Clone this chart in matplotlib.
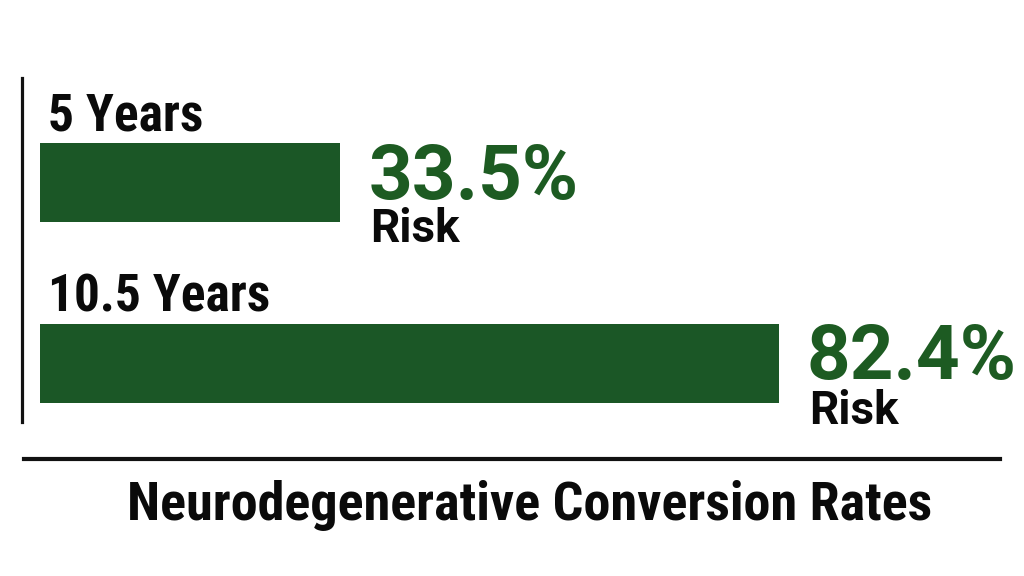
import matplotlib
matplotlib.use("Agg")
import matplotlib.pyplot as plt
from matplotlib import font_manager
from matplotlib.lines import Line2D

periods = ["5 Years", "10.5 Years"]
risk_pct = [33.5, 82.4]
title = "Neurodegenerative Conversion Rates"

BAR_GREEN = "#1b5726"
TEXT_GREEN = "#1d5b22"

# condensed face for the period labels and the title
names = {f.name for f in font_manager.fontManager.ttflist}
narrow = next((n for n in ["Roboto Condensed", "Liberation Sans Narrow"] if n in names),
              "Liberation Sans")

W, H = 1024, 576
fig = plt.figure(figsize=(W / 100, H / 100), dpi=100)
ax = fig.add_axes([0, 0, 1, 1])
ax.axis("off")

# pixel scale chosen so the long bar ends where the reference one does
px_per_unit = 739 / 82.4
x0 = 40
ax.set_xlim(-x0 / px_per_unit, (W - x0) / px_per_unit)
row_px, first_px = 181, 182.5
ax.set_ylim((H - first_px) / row_px, -first_px / row_px)

pos = list(range(len(periods)))
ax.barh(pos, risk_pct, height=0.435, color=BAR_GREEN, left=0)

for p, lab, v in zip(pos, periods, risk_pct):
    ax.annotate(lab, (0, p), xytext=(8, 52), textcoords="offset pixels",
                ha="left", va="baseline", fontsize=37, fontweight="bold",
                family=narrow, color="#0a0a0a")
    ax.annotate(f"{v}%", (v, p), xytext=(28, -16), textcoords="offset pixels",
                ha="left", va="baseline", fontsize=55, fontweight="bold",
                family="Roboto", color=TEXT_GREEN)
    ax.annotate("Risk", (v, p), xytext=(30, -60), textcoords="offset pixels",
                ha="left", va="baseline", fontsize=33, fontweight="bold",
                family="Roboto", color="#0a0a0a")

fig.add_artist(Line2D([22 / W, 22 / W], [1 - 78 / H, 1 - 422 / H],
                      color="#111111", lw=2.3, transform=fig.transFigure))
fig.add_artist(Line2D([24 / W, 1000 / W], [1 - 459 / H, 1 - 459 / H],
                      color="#111111", lw=3, transform=fig.transFigure))

fig.text(530 / W, 1 - 520 / H, title, ha="center", va="baseline",
         fontsize=39, fontweight="bold", family=narrow, color="#0a0a0a")

fig.savefig("out.png", dpi=100, facecolor="white")
